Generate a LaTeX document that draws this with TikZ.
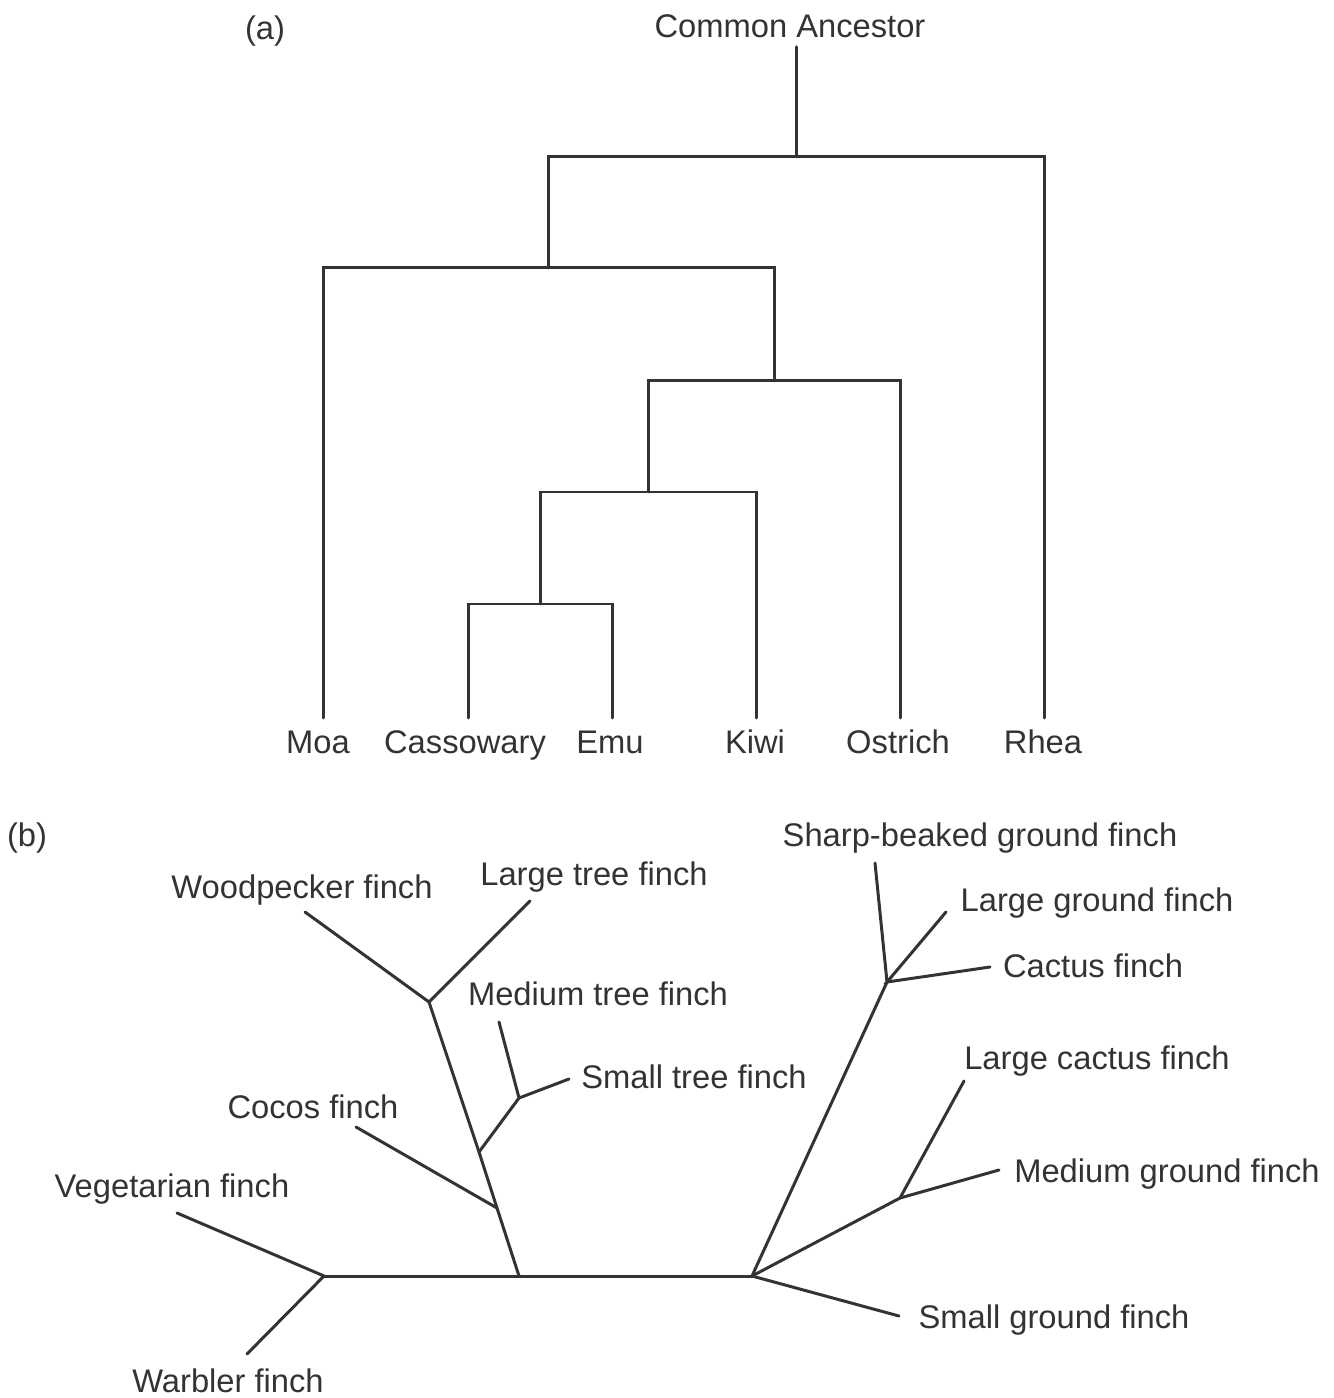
\documentclass[tikz,border=0pt]{standalone}
\usepackage{fontspec}
\setmainfont{Liberation Sans}
\usepackage{xcolor}
\usepackage{tikz}
\usetikzlibrary{calc}
\definecolor{trInk}{HTML}{333333}
\definecolor{trLine}{HTML}{333333}
\tikzset{
  taxon/.style={anchor=base,inner sep=0pt,
    font=\fontsize{9.3}{11}\selectfont,text=trInk},
  branch/.style={line width=0.85pt,draw=trLine,
    line cap=round,line join=miter},
}

\begin{document}
\begin{tikzpicture}[x=0.01cm,y=-0.01cm]
  \useasboundingbox (0,0) rectangle (1333,1398);

  % (a) ratite cladogram
  \node[taxon] (tagA) at (265,40) {(a)};
  \node[taxon] (anc) at (790,38) {Common Ancestor};
  \coordinate (top) at (796,47);
  \coordinate (n0) at (796,157);
  \coordinate (n1) at (548,268);
  \coordinate (n2) at (774,381);
  \coordinate (n3) at (648,492);
  \coordinate (n4) at (540,604);
  \coordinate (moaT) at (323,718);
  \coordinate (casT) at (468,718);
  \coordinate (emuT) at (612,718);
  \coordinate (kiwT) at (756,718);
  \coordinate (ostT) at (900,718);
  \coordinate (rheT) at (1044,718);

  \draw[branch] (top) -- (n0);
  \draw[branch] (n1) |- (n0) -| (rheT);
  \draw[branch] (moaT) |- (n1) -| (n2);
  \draw[branch] (n3) |- (n2) -| (ostT);
  \draw[branch] (n4) |- (n3) -| (kiwT);
  \draw[branch] (casT) |- (n4) -| (emuT);

  \node[taxon] (moa) at (318,753) {Moa};
  \node[taxon] (cas) at (465,753) {Cassowary};
  \node[taxon] (emu) at (610,753) {Emu};
  \node[taxon] (kiw) at (755,753) {Kiwi};
  \node[taxon] (ost) at (898,753) {Ostrich};
  \node[taxon] (rhe) at (1043,753) {Rhea};

  % (b) finch tree
  \node[taxon] (tagB) at (27,846) {(b)};
  \coordinate (wb) at (324,1276);
  \coordinate (tf) at (519,1276);
  \coordinate (gf) at (752,1276);
  \coordinate (cc) at (497,1208);
  \coordinate (ms) at (479,1152);
  \coordinate (st) at (519,1098);
  \coordinate (wl) at (429,1002);
  \coordinate (sg) at (887,982);
  \coordinate (mc) at (900,1198);
  \coordinate (vegT) at (177,1213);
  \coordinate (warT) at (247,1354);
  \coordinate (cocT) at (356,1127);
  \coordinate (medT) at (499,1022);
  \coordinate (smaT) at (569,1079);
  \coordinate (wooT) at (305,912);
  \coordinate (ltrT) at (530,901);
  \coordinate (shaT) at (875,863);
  \coordinate (lgrT) at (946,912);
  \coordinate (cacT) at (990,967);
  \coordinate (lcaT) at (964,1081);
  \coordinate (mgrT) at (999,1170);
  \coordinate (sgrT) at (899,1316);

  \draw[branch] (vegT) -- (wb) -- (warT);
  \draw[branch] (wb) -- (tf) -- (gf);
  \draw[branch] (tf) -- (cc) -- (ms) -- (wl);
  \draw[branch] (cocT) -- (cc);
  \draw[branch] (ms) -- (st) -- (medT);
  \draw[branch] (st) -- (smaT);
  \draw[branch] (wooT) -- (wl) -- (ltrT);
  \draw[branch] (gf) -- (sg) -- (shaT);
  \draw[branch] (lgrT) -- (sg) -- (cacT);
  \draw[branch] (gf) -- (mc) -- (lcaT);
  \draw[branch] (mc) -- (mgrT);
  \draw[branch] (gf) -- (sgrT);

  \node[taxon] (veg) at (172,1197) {Vegetarian finch};
  \node[taxon] (war) at (228,1392) {Warbler finch};
  \node[taxon] (coc) at (313,1118) {Cocos finch};
  \node[taxon] (med) at (598,1005) {Medium tree finch};
  \node[taxon] (sma) at (694,1088) {Small tree finch};
  \node[taxon] (woo) at (302,898) {Woodpecker finch};
  \node[taxon] (ltr) at (594,885) {Large tree finch};
  \node[taxon] (sha) at (980,846) {Sharp-beaked ground finch};
  \node[taxon] (lgr) at (1097,911) {Large ground finch};
  \node[taxon] (cac) at (1093,977) {Cactus finch};
  \node[taxon] (lca) at (1097,1069) {Large cactus finch};
  \node[taxon] (mgr) at (1167,1182) {Medium ground finch};
  \node[taxon] (sgr) at (1054,1328) {Small ground finch};
\end{tikzpicture}
\end{document}
